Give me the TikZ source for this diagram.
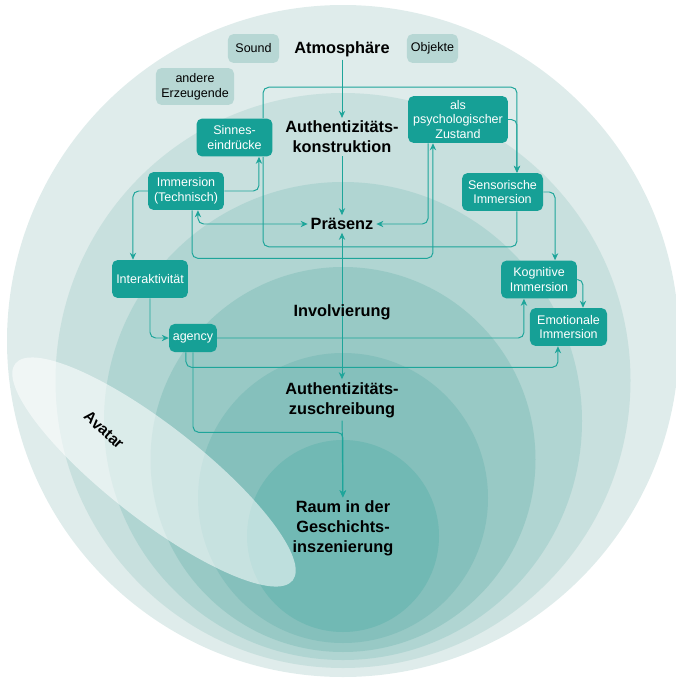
\documentclass[tikz,border=0pt]{standalone}
\usepackage{fontspec}
\setmainfont{Liberation Sans}
\usetikzlibrary{arrows.meta}

\begin{document}
\begin{tikzpicture}[x=0.025cm,y=-0.025cm]

	% Define the colours
	\definecolor{ringA}{HTML}{DFECEB}
	\definecolor{ringB}{HTML}{C8E0DE}
	\definecolor{ringC}{HTML}{B0D5D2}
	\definecolor{ringD}{HTML}{98C9C5}
	\definecolor{ringE}{HTML}{85C0BC}
	\definecolor{ringF}{HTML}{71B9B4}
	\definecolor{tealbox}{HTML}{16A096}
	\definecolor{tealline}{HTML}{1EA59A}
	\definecolor{palebox}{HTML}{B7D7D4}

	% Define the styles for boxes, labels and connectors
	\tikzset{
		darkbox/.style={fill=tealbox, text=white, rounded corners=4pt, align=center,
			minimum width=54pt, minimum height=27pt, inner sep=2pt,
			font=\fontsize{8.9}{10.5}\selectfont},
		lightbox/.style={fill=palebox, text=black, rounded corners=4pt, align=center,
			minimum width=36.3pt, minimum height=20.6pt, inner sep=2pt,
			font=\fontsize{8.9}{10.5}\selectfont},
		bigtext/.style={align=center, inner sep=2pt,
			font=\fontsize{11.6}{14.2}\selectfont\bfseries},
		conn/.style={draw=tealline, line width=0.7pt, rounded corners=4pt,
			-{Stealth[length=5pt,width=4.5pt]}},
		bothconn/.style={conn, {Stealth[length=5pt,width=4.5pt]}-{Stealth[length=5pt,width=4.5pt]}},
		plainconn/.style={draw=tealline, line width=0.7pt, rounded corners=4pt}
	}

	\useasboundingbox (0,0) rectangle (676,678);

	% Draw the nested circles, all touching near the bottom
	\fill[ringA] (343,341) circle (336);
	\fill[ringB] (343,380.5) circle (287.5);
	\fill[ringC] (343,421) circle (239);
	\fill[ringD] (343,459.5) circle (192.5);
	\fill[ringE] (343,498) circle (145);
	\fill[ringF] (343,536) circle (96);

	% Draw the avatar ellipse
	\fill[white, opacity=0.55, rotate around={-38:(154,472)}] (154,472) ellipse [x radius=176, y radius=47];
	\node[bigtext, rotate=-42, font=\fontsize{11}{13}\selectfont\bfseries] (avatar) at (104,430) {Avatar};

	% Sources at the top
	\node[lightbox] (sound) at (253.5,48.5) {Sound};
	\node[lightbox] (objekte) at (432.5,48.5) {Objekte};
	\node[lightbox, minimum width=55.5pt, minimum height=26.3pt] (andere) at (195,86.5) {andere\\Erzeugende};

	% Main labels down the middle
	\node[bigtext] (atmo) at (342,49) {Atmosphäre};
	\node[bigtext] (konstr) at (342,137) {Authentizitäts-\\konstruktion};
	\node[bigtext] (praesenz) at (342,224) {Präsenz};
	\node[bigtext] (zuschr) at (342,400) {Authentizitäts-\\zuschreibung};
	\node[bigtext] (raum) at (343,528) {Raum in der\\Geschichts-\\inszenierung};

	% Teal boxes
	\node[darkbox] (sinnes) at (234.5,137.5) {Sinnes-\\eindrücke};
	\node[darkbox, minimum width=71pt, minimum height=33.4pt] (psych) at (458,119.5) {als\\psychologischer\\Zustand};
	\node[darkbox] (techn) at (186,191) {Immersion\\(Technisch)};
	\node[darkbox, minimum width=57.6pt] (sensor) at (502.5,192) {Sensorische\\Immersion};
	\node[darkbox] (interakt) at (150,279) {Interaktivität};
	\node[darkbox] (kogn) at (539,279.5) {Kognitive\\Immersion};
	\node[darkbox, minimum width=54.8pt] (emot) at (568.5,327) {Emotionale\\Immersion};
	\node[darkbox, minimum width=34pt, minimum height=20pt] (agency) at (193,338) {agency};

	% Central chain
	\draw[conn] (atmo) -- (konstr);
	\draw[conn] (konstr) -- (praesenz);
	\draw[bothconn] (praesenz) -- (zuschr);
	\draw[conn] (zuschr) -- (raum);

	% Connectors on the left side
	\draw[conn] (techn.west) -| ([xshift=-12.1pt]interakt.north);
	\draw[conn] (techn.east) -| ([xshift=17.4pt]sinnes.south);
	\draw[bothconn] ([xshift=8.5pt]techn.south) |- (praesenz.west);
	\draw[conn] ([xshift=4.3pt]techn.south) -- ++(0,48) -| ([xshift=-17.8pt]psych.south);
	\draw[conn] (interakt.south) |- (agency.west);

	% Connectors from the senses
	\draw[plainconn] ([xshift=20.3pt]sinnes.south) -- ++(0,90) -| ([xshift=10.3pt]sensor.south);
	\draw[conn] ([xshift=20.3pt]sinnes.north) -- ++(0,-31) -| ([xshift=10.3pt]sensor.north);
	\draw[conn] (psych.east) -| ([xshift=10.3pt]sensor.north);
	\draw[conn] ([xshift=-21.3pt]psych.south) |- (praesenz.east);

	% Connectors on the right side
	\draw[conn] (sensor.east) -| ([xshift=11.4pt]kogn.north);
	\draw[conn] (kogn.east) -| ([xshift=10.3pt]emot.north);

	% Connectors from agency
	\draw[conn] (agency.east) -| ([xshift=-10.7pt]kogn.south);
	\draw[conn] ([xshift=-5pt]agency.south) -- ++(0,15) -| ([xshift=-7.5pt]emot.south);
	\draw[conn] (agency.south) -- ++(0,80) -| (raum.north);

	% Label drawn over the central line
	\node[bigtext] (involv) at (342,312) {Involvierung};

\end{tikzpicture}
\end{document}
